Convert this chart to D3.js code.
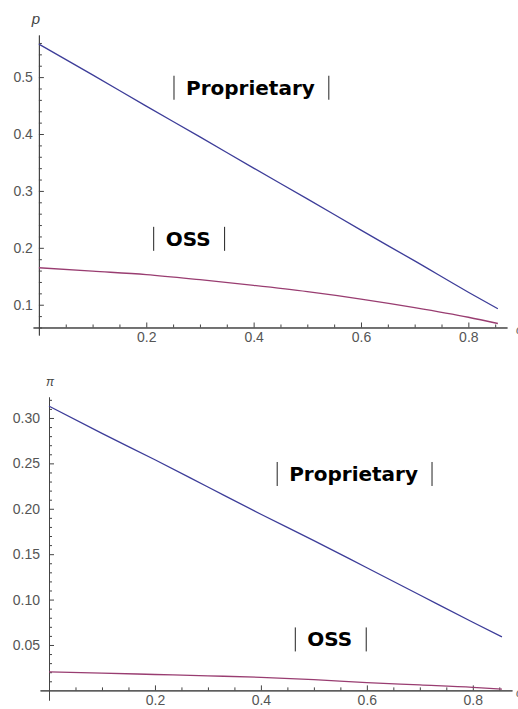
<!DOCTYPE html>
<html>
<head>
<meta charset="utf-8">
<script src="https://cdn.jsdelivr.net/npm/d3@7"></script>
<style>
  body { margin: 0; background: #fff; }
  svg { display: block; }
  .axis path, .axis line { stroke: #444; }
  .axis text { fill: #555; font-family: 'Liberation Sans', Arial, sans-serif; font-size: 14px; }
  .lbl { font-family: 'DejaVu Sans', Verdana, sans-serif; font-weight: bold; font-size: 20px; fill: #000; }
</style>
</head>
<body>
<svg id="chart" width="518" height="709"></svg>
<script>
// shared x values (c)
var xs = [0, 0.1, 0.2, 0.3, 0.4, 0.5, 0.6, 0.7, 0.8, 0.855]

// top panel: price p
var pProp = [0.558, 0.504, 0.449, 0.395, 0.340, 0.286, 0.231, 0.177, 0.122, 0.093]
var pOss = [0.165, 0.159, 0.153, 0.144, 0.134, 0.123, 0.110, 0.095, 0.078, 0.067]

// bottom panel: profit pi
var piProp = [0.313, 0.283, 0.254, 0.224, 0.194, 0.165, 0.135, 0.105, 0.075, 0.059]
var piOss = [0.0203, 0.019, 0.0175, 0.016, 0.0144, 0.0118, 0.0085, 0.006, 0.0034, 0.0013]

var xMajor = [0.2, 0.4, 0.6, 0.8]
var xMinor = [0.05, 0.1, 0.15, 0.25, 0.3, 0.35, 0.45, 0.5, 0.55, 0.65, 0.7, 0.75, 0.85]
var pMajor = [0.1, 0.2, 0.3, 0.4, 0.5]
var pMinor = d3.range(3, 29).map(function (i) { return i * 0.02 }).filter(function (v) { return Math.abs(v * 10 - Math.round(v * 10)) > 1e-6 })
var piMajor = [0.05, 0.1, 0.15, 0.2, 0.25, 0.3]
var piMinor = d3.range(1, 33).map(function (i) { return i * 0.01 }).filter(function (v) { return i5(v) })
function i5 (v) { return Math.abs(v * 20 - Math.round(v * 20)) > 1e-6 }

// label positions in data coords: [x, baseline y]
var topLabels = [{ text: 'Proprietary', x: 0.394, y: 0.469 }, { text: 'OSS', x: 0.278, y: 0.2035 }]
var botLabels = [{ text: 'Proprietary', x: 0.575, y: 0.2306 }, { text: 'OSS', x: 0.530, y: 0.0484 }]

var colProp = '#3d3d99'
var colOss = '#993d71'

var svg = d3.select('#chart')

function panel (opt) {
  var g = svg.append('g')
  var x = d3.scaleLinear().domain(opt.xDomain).range(opt.xRange)
  var y = d3.scaleLinear().domain(opt.yDomain).range(opt.yRange)

  // x axis: minor then major, ticks pointing inward
  g.append('g').attr('class', 'axis')
    .attr('transform', 'translate(0,' + y(opt.yCross) + ')')
    .call(d3.axisBottom(x).tickValues(xMinor).tickSize(-3).tickSizeOuter(0).tickFormat(''))
  g.append('g').attr('class', 'axis')
    .attr('transform', 'translate(0,' + y(opt.yCross) + ')')
    .call(d3.axisBottom(x).tickValues(xMajor).tickSize(-5).tickSizeOuter(0).tickPadding(opt.xPad).tickFormat(d3.format('.1f')))

  g.append('g').attr('class', 'axis')
    .attr('transform', 'translate(' + x(0) + ',0)')
    .call(d3.axisLeft(y).tickValues(opt.yMinor).tickSize(-3).tickSizeOuter(0).tickFormat(''))
  g.append('g').attr('class', 'axis')
    .attr('transform', 'translate(' + x(0) + ',0)')
    .call(d3.axisLeft(y).tickValues(opt.yMajor).tickSize(-5).tickSizeOuter(0).tickPadding(opt.yPad).tickFormat(d3.format(opt.yFmt)))

  var line = d3.line().x(function (d) { return x(d[0]) }).y(function (d) { return y(d[1]) }).curve(d3.curveMonotoneX)
  g.append('path').datum(d3.zip(xs, opt.prop))
    .attr('d', line).attr('fill', 'none').attr('stroke', colProp).attr('stroke-width', 1.3)
  g.append('path').datum(d3.zip(xs, opt.oss))
    .attr('d', line).attr('fill', 'none').attr('stroke', colOss).attr('stroke-width', 1.3)

  // axis names
  g.append('text').text(opt.yName)
    .attr('x', x(0) + opt.yNameDx).attr('y', y(opt.yDomain[1]) - opt.yNameDy)
    .attr('text-anchor', 'middle')
    .style('font-family', "'Liberation Sans', Arial, sans-serif")
    .style('font-style', 'italic').style('font-size', opt.yNameSize).style('fill', '#444')
  g.append('text').text('c')
    .attr('x', 516).attr('y', y(opt.yCross) + 7)
    .style('font-family', "'Liberation Sans', sans-serif").style('font-style', 'italic')
    .style('font-size', '12px').style('fill', '#666')

  // curve labels with bars
  opt.labels.forEach(function (l) {
    var t = g.append('text').attr('class', 'lbl')
      .attr('x', x(l.x)).attr('y', y(l.y)).attr('text-anchor', 'middle').text(l.text)
    var w = t.node().getComputedTextLength()
    var cx = x(l.x)
    var by = y(l.y)
    ;[cx - w / 2 - 12, cx + w / 2 + 14].forEach(function (bx) {
      g.append('line').attr('x1', bx).attr('x2', bx)
        .attr('y1', by - 19).attr('y2', by + 5)
        .attr('stroke', '#222').attr('stroke-width', 1)
    })
  })
}

panel({
  xDomain: [-0.011, 0.872], xRange: [33, 507],
  yDomain: [0.0468, 0.574], yRange: [335, 35], yCross: 0.06,
  yMajor: pMajor, yMinor: pMinor, yFmt: '.1f',
  xPad: 5, yPad: 6,
  prop: pProp, oss: pOss, labels: topLabels,
  yName: 'p', yNameDx: -3, yNameDy: 11, yNameSize: '15px'
})

panel({
  xDomain: [-0.017, 0.874], xRange: [40, 512],
  yDomain: [-0.0106, 0.3231], yRange: [700, 397], yCross: 0,
  yMajor: piMajor, yMinor: piMinor, yFmt: '.2f',
  xPad: 5, yPad: 9,
  prop: piProp, oss: piOss, labels: botLabels,
  yName: 'π', yNameDx: 1, yNameDy: 11, yNameSize: '12px'
})
</script>
</body>
</html>
